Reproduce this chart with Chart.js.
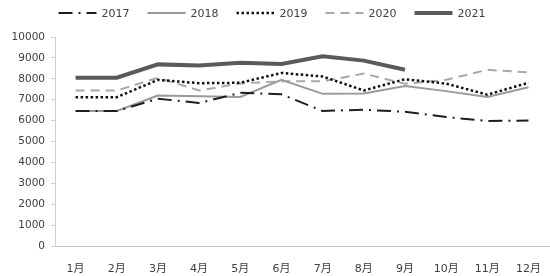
<!DOCTYPE html>
<html>
<head>
<meta charset="utf-8">
<script src="https://cdn.jsdelivr.net/npm/chart.js@4"></script>
<style>
  html, body { margin: 0; padding: 0; background: #fff; }
  #wrap { width: 550px; height: 276px; position: relative; }
</style>
</head>
<body>
<div id="wrap"><canvas id="chart"></canvas></div>
<script>
// Data
const months = ['1月','2月','3月','4月','5月','6月','7月','8月','9月','10月','11月','12月'];
const y2017 = [6460, 6460, 7050, 6840, 7330, 7260, 6460, 6520, 6420, 6170, 5980, 6000];
const y2018 = [6460, 6460, 7200, 7160, 7130, 7950, 7280, 7300, 7650, 7410, 7130, 7600];
const y2019 = [7120, 7120, 7950, 7790, 7810, 8280, 8110, 7440, 7980, 7770, 7240, 7810];
const y2020 = [7440, 7440, 8050, 7440, 7780, 7880, 7880, 8250, 7760, 7950, 8430, 8310];
const y2021 = [8050, 8050, 8690, 8640, 8770, 8710, 9080, 8870, 8430];

const FONT = '"DejaVu Sans", "Noto Sans CJK SC", sans-serif';
const textColor = '#404040';

function series(label, data, color, width, dash) {
  return {
    label, data,
    borderColor: color, backgroundColor: color,
    borderWidth: width, borderDash: dash,
    pointRadius: 0, tension: 0, fill: false
  };
}

// legend drawn above the plot, line sample + label
const topLegend = {
  id: 'topLegend',
  afterDraw(chart) {
    const ctx = chart.ctx;
    const sample = 38, gap = 5, spacing = 18, y = 13;
    ctx.save();
    ctx.font = '11px ' + FONT;
    const items = chart.data.datasets.map(d => ({ d, w: sample + gap + ctx.measureText(d.label).width }));
    const total = items.reduce((s, it) => s + it.w, 0) + spacing * (items.length - 1);
    let x = chart.width / 2 - 3 - total / 2;
    items.forEach(({ d, w }) => {
      ctx.beginPath();
      ctx.setLineDash(d.borderDash || []);
      ctx.strokeStyle = d.borderColor;
      ctx.lineWidth = d.borderWidth;
      ctx.moveTo(x, y);
      ctx.lineTo(x + sample, y);
      ctx.stroke();
      ctx.setLineDash([]);
      ctx.fillStyle = textColor;
      ctx.textBaseline = 'middle';
      ctx.fillText(d.label, x + sample + gap, y + 1);
      x += w + spacing;
    });
    ctx.restore();
  }
};

new Chart(document.getElementById('chart'), {
  type: 'line',
  data: {
    labels: months,
    datasets: [
      series('2017', y2017, '#1e1e1e', 2, [14, 6, 2, 6]),
      series('2018', y2018, '#9a9a9a', 2, []),
      series('2019', y2019, '#111111', 2.5, [2.5, 2.5]),
      series('2020', y2020, '#a8a8a8', 2, [9, 6]),
      series('2021', y2021, '#5a5a5a', 4, [])
    ]
  },
  options: {
    responsive: true, maintainAspectRatio: false, animation: false,
    layout: { padding: { top: 37, right: 0, bottom: 0, left: 0 } },
    plugins: { legend: { display: false }, tooltip: { enabled: false } },
    scales: {
      x: {
        offset: true,
        grid: { display: false },
        border: { display: true, color: '#c8c8c8', width: 1 },
        ticks: { color: textColor, font: { family: FONT, size: 11 }, padding: 9, maxRotation: 0, autoSkip: false },
        afterFit: s => { s.height = 30; }
      },
      y: {
        min: 0, max: 10000,
        ticks: { stepSize: 1000, color: textColor, font: { family: FONT, size: 10.5 }, padding: 6, callback: v => String(v) },
        grid: { drawOnChartArea: false, drawTicks: true, tickLength: 4, color: '#d0d0d0' },
        border: { display: true, color: '#d0d0d0', width: 1 },
        afterFit: s => { s.width = 55; }
      }
    }
  },
  plugins: [topLegend]
});
</script>
</body>
</html>
